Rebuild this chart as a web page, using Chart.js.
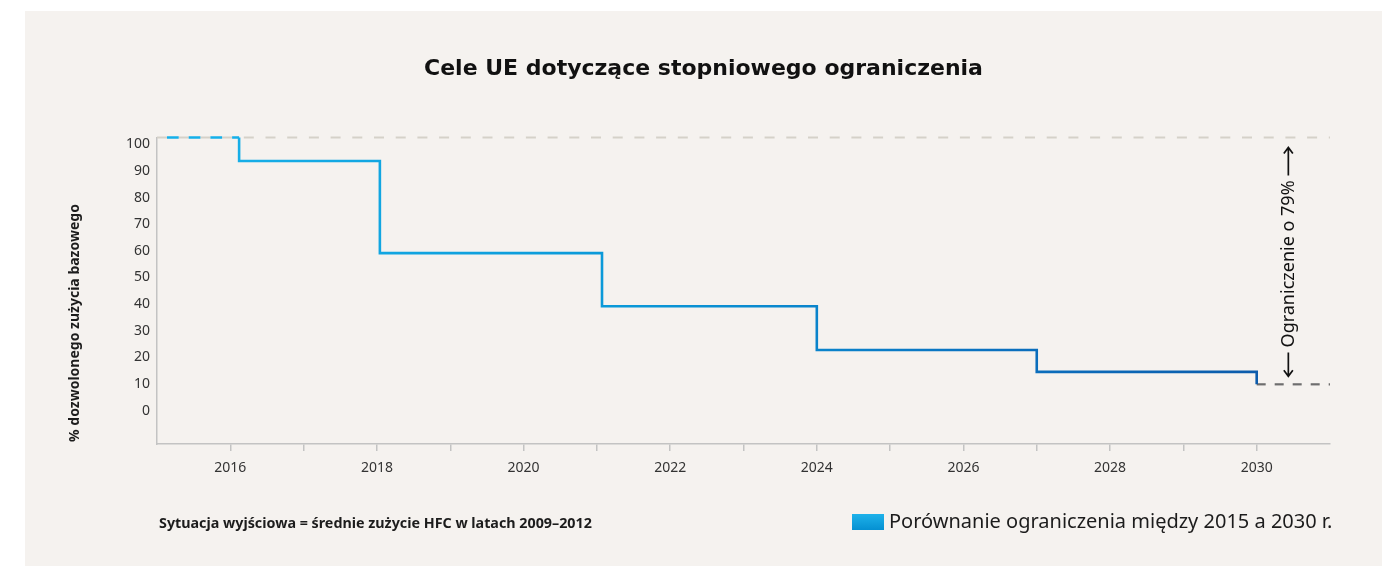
<!DOCTYPE html>
<html><head><meta charset="utf-8">
<script src="https://cdn.jsdelivr.net/npm/chart.js@4.4.1/dist/chart.umd.min.js"></script>
<style>
html,body{margin:0;padding:0;background:#fff;}
#panel{position:absolute;left:25px;top:11px;width:1357px;height:555px;background:#f5f2ef;}
canvas{display:block;}
</style></head><body>
<div id="panel"><canvas id="c" width="1357" height="555"></canvas></div>
<script>
// ---- data ----
const stepYears = [2015, 2016.12, 2018.04, 2021.07, 2024, 2027, 2030];
const allowedPercent = [100, 92.5, 63, 46, 32, 25, 21];
const xAxisRange = [2015, 2031];
const xTickYears = [2016, 2017, 2018, 2019, 2020, 2021, 2022, 2023, 2024, 2025, 2026, 2027, 2028, 2029, 2030];
const xLabelYears = [2016, 2018, 2020, 2022, 2024, 2026, 2028, 2030];
const yTickLabels = [0, 10, 20, 30, 40, 50, 60, 70, 80, 90, 100];
const titleText = 'Cele UE dotyczące stopniowego ograniczenia';
const yTitleText = '% dozwolonego zużycia bazowego';
const footnoteText = 'Sytuacja wyjściowa = średnie zużycie HFC w latach 2009–2012';
const legendText = 'Porównanie ograniczenia między 2015 a 2030 r.';
const reductionText = 'Ograniczenie o 79%';

const FONT = '"Noto Sans", "Open Sans", sans-serif';
const PANEL_X = 25, PANEL_Y = 11;

// ---- datasets built from arrays ----
const last = stepYears.length - 1;
const mainStep = [{x: stepYears[1], y: allowedPercent[0]}].concat(
  stepYears.slice(1).map((yr, i) => ({x: yr, y: allowedPercent[i + 1]})));
const firstDashed = [{x: stepYears[0], y: allowedPercent[0]}, {x: stepYears[1], y: allowedPercent[0]}];
const baseline = [{x: xAxisRange[0], y: allowedPercent[0]}, {x: xAxisRange[1], y: allowedPercent[0]}];
const targetLine = [{x: stepYears[last], y: allowedPercent[last]}, {x: xAxisRange[1], y: allowedPercent[last]}];

function blueGradient(ctx) {
  const ca = ctx.chart.chartArea;
  if (!ca) return '#0a8fd0';
  const g = ctx.chart.ctx.createLinearGradient(ca.left, 0, ca.right, 0);
  g.addColorStop(0, '#18b2ea');
  g.addColorStop(0.4, '#0a98d8');
  g.addColorStop(0.7, '#0a72c0');
  g.addColorStop(1, '#0d56a6');
  return g;
}

const decor = {
  id: 'decor',
  afterDraw(chart) {
    const ctx = chart.ctx;
    const xs = chart.scales.x, ys = chart.scales.y;
    ctx.save();
    // y axis title
    ctx.save();
    ctx.translate(75 - PANEL_X, 323 - PANEL_Y);
    ctx.rotate(-Math.PI / 2);
    ctx.font = 'bold 14px ' + FONT;
    ctx.fillStyle = '#1c1c1c';
    ctx.textAlign = 'center';
    ctx.textBaseline = 'middle';
    ctx.fillText(yTitleText, 0, 0);
    ctx.restore();
    // footnote
    ctx.font = 'bold 14.3px ' + FONT;
    ctx.fillStyle = '#1c1c1c';
    ctx.textAlign = 'left';
    ctx.textBaseline = 'middle';
    ctx.fillText(footnoteText, 159 - PANEL_X, 524 - PANEL_Y);
    // legend
    const bx = 852 - PANEL_X, by = 514 - PANEL_Y;
    const lg = ctx.createLinearGradient(0, by, 0, by + 16);
    lg.addColorStop(0, '#1eb2ea');
    lg.addColorStop(1, '#0590d2');
    ctx.fillStyle = lg;
    ctx.fillRect(bx, by, 32, 16);
    ctx.font = '20px ' + FONT;
    ctx.fillStyle = '#1c1c1c';
    ctx.fillText(legendText, 889 - PANEL_X, 522 - PANEL_Y);
    // reduction annotation
    const px = (xs.getPixelForValue(stepYears[last]) + xs.getPixelForValue(xAxisRange[1])) / 2 - 5;
    const yTop = ys.getPixelForValue(allowedPercent[0]) + 10;
    const yBot = ys.getPixelForValue(allowedPercent[last]) - 8;
    const yMid = (yTop + yBot) / 2 + 2;
    ctx.font = '18px ' + FONT;
    const tw = ctx.measureText(reductionText).width;
    ctx.save();
    ctx.translate(px, yMid);
    ctx.rotate(-Math.PI / 2);
    ctx.fillStyle = '#111';
    ctx.textAlign = 'center';
    ctx.textBaseline = 'middle';
    ctx.fillText(reductionText, 0, 1);
    ctx.restore();
    ctx.strokeStyle = '#111';
    ctx.lineWidth = 1.7;
    function arrow(from, to) {
      const dir = Math.sign(to - from);
      ctx.beginPath();
      ctx.moveTo(px, from); ctx.lineTo(px, to);
      ctx.moveTo(px - 4.5, to - dir * 6); ctx.lineTo(px, to); ctx.lineTo(px + 4.5, to - dir * 6);
      ctx.stroke();
    }
    arrow(yMid - tw / 2 - 5, yTop);
    arrow(yMid + tw / 2 + 5, yBot);
    ctx.restore();
  }
};

new Chart(document.getElementById('c'), {
  type: 'line',
  data: {
    datasets: [
      { data: mainStep, yAxisID: 'y', xAxisID: 'x', stepped: 'before', borderColor: blueGradient, borderWidth: 2.6,
        pointRadius: 0, fill: false, clip: 6, borderJoinStyle: 'miter', borderCapStyle: 'butt' },
      { data: firstDashed, yAxisID: 'y', xAxisID: 'x', borderColor: '#14b0ea', borderWidth: 2.6, borderDash: [11.7, 10],
        borderDashOffset: 11.7, pointRadius: 0, fill: false, clip: 6, borderCapStyle: 'butt' },
      { data: targetLine, yAxisID: 'y', xAxisID: 'x', borderColor: '#6e6e6e', borderWidth: 2.2, borderDash: [9, 9],
        pointRadius: 0, fill: false, clip: 6, borderCapStyle: 'butt' },
      { data: baseline, yAxisID: 'y', xAxisID: 'x', borderColor: '#d5d1c9', borderWidth: 2.2, borderDash: [10, 11.7],
        pointRadius: 0, fill: false, clip: 6, borderCapStyle: 'butt' }
    ]
  },
  options: {
    responsive: false,
    animation: false,
    devicePixelRatio: 1,
    layout: { padding: 0 },
    plugins: {
      legend: { display: false },
      tooltip: { enabled: false },
      title: {
        display: true, text: titleText, color: '#111',
        font: { family: '"DejaVu Sans", ' + FONT, size: 22, weight: 'bold', lineHeight: 1.2 },
        padding: { top: 45.5, bottom: 54.6 }
      }
    },
    scales: {
      x: {
        type: 'linear', position: 'bottom', min: xAxisRange[0], max: xAxisRange[1],
        afterBuildTicks: s => { s.ticks = xTickYears.map(v => ({ value: v })); },
        afterFit: s => { s.height = 122; },
        ticks: {
          autoSkip: false, maxRotation: 0, padding: 9, color: '#333',
          font: { family: FONT, size: 14 },
          callback: v => xLabelYears.includes(v) ? String(v) : ''
        },
        grid: { display: true, drawOnChartArea: false, drawTicks: true, tickLength: 7, color: '#c3c3c3', lineWidth: 1.5 },
        border: { display: true, color: '#c3c3c3', width: 1.5 }
      },
      yl: {
        type: 'linear', position: 'left', min: -12.5, max: 102.55,
        afterBuildTicks: s => { s.ticks = yTickLabels.map(v => ({ value: v })); },
        afterFit: s => { s.width = 132; },
        ticks: { padding: 7, color: '#333', font: { family: FONT, size: 14 } },
        grid: { display: false, drawTicks: false },
        border: { display: true, color: '#c3c3c3', width: 1.5 }
      },
      y: {
        type: 'linear', position: 'right', min: 1.9, max: 100,
        afterFit: s => { s.width = 52; },
        ticks: { display: false },
        grid: { display: false, drawTicks: false },
        border: { display: false }
      }
    }
  },
  plugins: [decor]
});
</script>
</body></html>
